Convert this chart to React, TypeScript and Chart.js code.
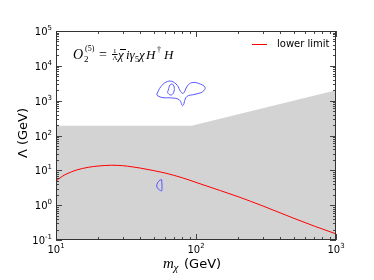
import React, { useEffect, useRef } from 'react';
import { Chart, registerables } from 'chart.js';

Chart.register(...registerables);

// ---- data ----
const massGeV = [10, 11, 12, 14, 17, 20, 25, 30, 35, 40, 50, 60, 80, 100, 150, 200, 300, 500, 700, 1000];
const lowerLimitLambda = [4.9, 6.6, 8.0, 10.2, 12.2, 13.3, 14.0, 13.6, 12.6, 11.6, 9.8, 8.4, 6.1, 4.5, 2.6, 1.75, 0.95, 0.42, 0.25, 0.15];

const excludedMass = [10, 93, 1000];
const excludedLambda = [190, 190, 2000];

const contourOuterMass = [52.5, 56.0, 61.0, 67.0, 73.5, 77.5, 81.2, 86.7, 93.2, 103.8, 116, 111.6, 98.4, 85.8, 80.4, 76.0, 67.1, 58.0, 53.2, 52.5];
const contourOuterLambda = [1560, 2500, 3400, 3600, 2750, 1850, 1626, 2636, 3280, 3150, 2420, 1808, 1523, 1300, 720, 1060, 1200, 1220, 1380, 1560];

const contourInnerMass = [63.4, 65.2, 68.2, 70.0, 68.8, 66.0, 62.8, 63.4];
const contourInnerLambda = [2023, 2818, 2950, 2265, 1626, 1454, 1693, 2023];

const contourSmallMass = [56.9, 55.3, 53.2, 52.4, 53.8, 56.9, 56.9];
const contourSmallLambda = [5.4, 5.27, 4.41, 3.55, 2.91, 2.6, 5.4];

const xMajorTicks = [10, 100, 1000];
const xTickExponents = ['1', '2', '3'];
const yMajorTicks = [0.1, 1, 10, 100, 1000, 10000, 100000];
const yTickExponents = ['-1', '0', '1', '2', '3', '4', '5'];

const toPoints = (xs: number[], ys: number[]) => xs.map((x, i) => ({ x, y: ys[i] }));

const SANS = '"DejaVu Sans", sans-serif';
const SERIF = '"Liberation Serif", "DejaVu Serif", serif';

const decorations = {
  id: 'decorations',
  afterDraw(chart: any) {
    const { ctx, chartArea: a, scales } = chart;
    const xs = scales.x;
    const ys = scales.y;
    ctx.save();
    ctx.strokeStyle = '#444';
    ctx.lineWidth = 1;
    const seg = (x1: number, y1: number, x2: number, y2: number) => {
      ctx.beginPath();
      ctx.moveTo(x1, y1);
      ctx.lineTo(x2, y2);
      ctx.stroke();
    };
    // x ticks
    for (let d = 10; d <= 1000; d *= 10) {
      for (let k = 1; k <= 9; k++) {
        const v = d * k;
        if (v > 1000) break;
        const len = k === 1 ? 6 : 3;
        const px = Math.round(xs.getPixelForValue(v)) + 0.5;
        seg(px, a.bottom, px, a.bottom - len);
        seg(px, a.top, px, a.top + len);
      }
    }
    // y ticks
    for (let d = 0.1; d <= 100001; d *= 10) {
      for (let k = 1; k <= 9; k++) {
        const v = d * k;
        if (v > 100001) break;
        const len = k === 1 ? 6 : 3;
        const py = Math.round(ys.getPixelForValue(v)) + 0.5;
        seg(a.left, py, a.left + len, py);
        seg(a.right, py, a.right - len, py);
      }
    }
    // frame
    ctx.strokeStyle = '#333';
    ctx.strokeRect(Math.round(a.left) + 0.5, Math.round(a.top) + 0.5, Math.round(a.right - a.left) - 1, Math.round(a.bottom - a.top) - 1);

    // tick labels
    ctx.fillStyle = '#000';
    ctx.textBaseline = 'alphabetic';
    const big = `10px ${SANS}`;
    const small = `7px ${SANS}`;
    xMajorTicks.forEach((v, i) => {
      const px = xs.getPixelForValue(v);
      ctx.font = big;
      const w1 = ctx.measureText('10').width;
      ctx.font = small;
      const w2 = ctx.measureText(xTickExponents[i]).width;
      const x0 = px - (w1 + w2) / 2;
      ctx.font = big;
      ctx.textAlign = 'left';
      ctx.fillText('10', x0, a.bottom + 13);
      ctx.font = small;
      ctx.fillText(xTickExponents[i], x0 + w1, a.bottom + 8);
    });
    yMajorTicks.forEach((v, i) => {
      const py = ys.getPixelForValue(v);
      ctx.font = small;
      const w2 = ctx.measureText(yTickExponents[i]).width;
      ctx.font = big;
      const w1 = ctx.measureText('10').width;
      const xr = a.left - 4;
      ctx.textAlign = 'left';
      ctx.fillText('10', xr - w2 - w1, py + 4);
      ctx.font = small;
      ctx.fillText(yTickExponents[i], xr - w2, py - 1);
    });

    // x title: m_chi (GeV)
    ctx.textAlign = 'left';
    ctx.font = `italic 15px ${SERIF}`;
    ctx.fillText('m', 163, 268);
    ctx.font = `italic 11px ${SERIF}`;
    ctx.fillText('χ', 173.5, 271);
    ctx.font = `13px ${SANS}`;
    ctx.fillText('(GeV)', 184, 268);

    // y title
    ctx.save();
    ctx.translate(27, 133);
    ctx.rotate(-Math.PI / 2);
    ctx.textAlign = 'center';
    ctx.font = `13px ${SANS}`;
    ctx.fillText('Λ (GeV)', 0, 0);
    ctx.restore();

    // formula
    ctx.textAlign = 'left';
    ctx.strokeStyle = '#000';
    const base = 59;
    ctx.font = `italic 14px ${SERIF}`;
    ctx.fillText('O', 73, base);
    ctx.font = `9px ${SERIF}`;
    ctx.fillText('2', 84, base + 3);
    ctx.font = `8px ${SERIF}`;
    ctx.fillText('(5)', 85, base - 8);
    ctx.font = `14px ${SERIF}`;
    ctx.fillText('=', 99, base);
    ctx.font = `7px ${SERIF}`;
    ctx.fillText('1', 113, base - 6);
    ctx.fillText('Λ', 112.5, base + 1);
    seg(112, base - 4.5, 117.5, base - 4.5);
    ctx.font = `italic 13px ${SERIF}`;
    ctx.fillText('χ', 118, base);
    seg(120, base - 9.5, 126, base - 9.5);
    ctx.fillText('i', 126, base);
    ctx.fillText('γ', 129.5, base);
    ctx.font = `8px ${SERIF}`;
    ctx.fillText('5', 135, base + 3);
    ctx.font = `italic 13px ${SERIF}`;
    ctx.fillText('χ', 139, base);
    ctx.fillText('H', 146, base);
    ctx.font = `8px ${SERIF}`;
    ctx.fillText('†', 157, base - 7);
    ctx.font = `italic 13px ${SERIF}`;
    ctx.fillText('H', 164, base);

    // legend
    ctx.strokeStyle = '#ff0000';
    ctx.lineWidth = 1;
    seg(252, 44.5, 267, 44.5);
    ctx.fillStyle = '#000';
    ctx.font = `10px ${SANS}`;
    ctx.textBaseline = 'middle';
    ctx.fillText('lower limit', 277, 44);
    ctx.restore();
  },
};

export default function App() {
  const ref = useRef<HTMLCanvasElement | null>(null);
  useEffect(() => {
    document.body.style.margin = '0';
    const canvas = ref.current;
    if (!canvas) return;
    const blue = 'rgb(85,85,255)';
    const chart = new Chart(canvas, {
      type: 'scatter',
      data: {
        datasets: [
          {
            label: 'excluded',
            data: toPoints(excludedMass, excludedLambda),
            showLine: true,
            borderWidth: 0,
            borderColor: 'rgba(0,0,0,0)',
            backgroundColor: 'rgb(211,211,211)',
            fill: 'start',
            pointRadius: 0,
            order: 5,
          },
          {
            label: 'lower limit',
            data: toPoints(massGeV, lowerLimitLambda),
            showLine: true,
            borderColor: '#ff0000',
            borderWidth: 1,
            pointRadius: 0,
            cubicInterpolationMode: 'monotone',
            fill: false,
            order: 1,
          },
          {
            label: 'outer',
            data: toPoints(contourOuterMass, contourOuterLambda),
            showLine: true,
            borderColor: blue,
            borderWidth: 1,
            pointRadius: 0,
            tension: 0.4,
            fill: false,
          },
          {
            label: 'inner',
            data: toPoints(contourInnerMass, contourInnerLambda),
            showLine: true,
            borderColor: blue,
            borderWidth: 1,
            pointRadius: 0,
            tension: 0.4,
            fill: false,
          },
          {
            label: 'small',
            data: toPoints(contourSmallMass, contourSmallLambda),
            showLine: true,
            borderColor: blue,
            borderWidth: 1,
            pointRadius: 0,
            tension: 0.3,
            fill: false,
          },
        ],
      },
      options: {
        responsive: false,
        animation: false,
        layout: { padding: { left: 56, right: 38, top: 31, bottom: 40 } },
        plugins: { legend: { display: false }, tooltip: { enabled: false } },
        scales: {
          x: { type: 'logarithmic', min: 10, max: 1000, display: false },
          y: { type: 'logarithmic', min: 0.1, max: 100000, display: false },
        },
      },
      plugins: [decorations],
    } as any);
    return () => chart.destroy();
  }, []);
  return (
    <div style={{ width: 374, height: 280, background: '#fff' }}>
      <canvas ref={ref} width={374} height={280} style={{ display: 'block' }} />
    </div>
  );
}
